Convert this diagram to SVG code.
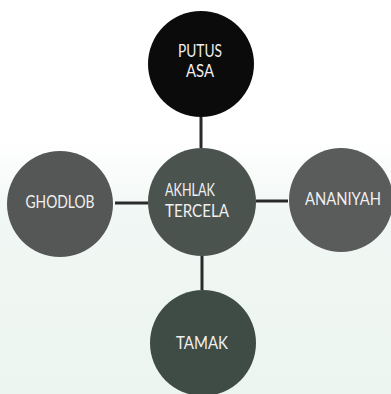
<svg xmlns="http://www.w3.org/2000/svg" width="391" height="394" viewBox="0 0 391 394">
<style>
.lbl{font-family:Lato,"Open Sans","Liberation Sans",sans-serif;font-size:16.5px;fill:#f0f0f0}
.ln{stroke:#2a2a2a;stroke-width:3}
</style>
<defs>
<linearGradient id="bg" x1="0" y1="0" x2="0" y2="1">
<stop offset="0" stop-color="#ffffff"/>
<stop offset="0.35" stop-color="#ffffff"/>
<stop offset="0.55" stop-color="#f1f7f4"/>
<stop offset="1" stop-color="#ecf5f0"/>
</linearGradient>
</defs>
<rect width="391" height="394" fill="url(#bg)"/>
<g id="connectors">
<line class="ln" x1="201" y1="117" x2="201" y2="148"/>
<line class="ln" x1="115" y1="203" x2="148" y2="203"/>
<line class="ln" x1="256" y1="201" x2="288" y2="201"/>
<line class="ln" x1="202" y1="256" x2="202" y2="290"/>
</g>
<g id="putus-asa">
<circle cx="201" cy="64" r="53" fill="#0b0b0b"/>
<text class="lbl" x="200" y="57" text-anchor="middle" textLength="44" lengthAdjust="spacingAndGlyphs">PUTUS</text>
<text class="lbl" x="200" y="77" text-anchor="middle" textLength="28" lengthAdjust="spacingAndGlyphs">ASA</text>
</g>
<g id="akhlak-tercela">
<circle cx="202" cy="202" r="54" fill="#4b534f"/>
<text class="lbl" x="165" y="196" textLength="50" lengthAdjust="spacingAndGlyphs">AKHLAK</text>
<text class="lbl" x="165" y="217" textLength="64" lengthAdjust="spacingAndGlyphs">TERCELA</text>
</g>
<g id="ghodlob">
<circle cx="60" cy="204" r="53" fill="#555756"/>
<text class="lbl" x="60" y="208" text-anchor="middle" textLength="69" lengthAdjust="spacingAndGlyphs">GHODLOB</text>
</g>
<g id="ananiyah">
<circle cx="341" cy="200" r="52" fill="#5a5b5b"/>
<text class="lbl" x="343" y="205" text-anchor="middle" textLength="76" lengthAdjust="spacingAndGlyphs">ANANIYAH</text>
</g>
<g id="tamak">
<circle cx="203" cy="343" r="53" fill="#3f4b45"/>
<text class="lbl" x="202" y="349" text-anchor="middle" textLength="52" lengthAdjust="spacingAndGlyphs">TAMAK</text>
</g>
</svg>
